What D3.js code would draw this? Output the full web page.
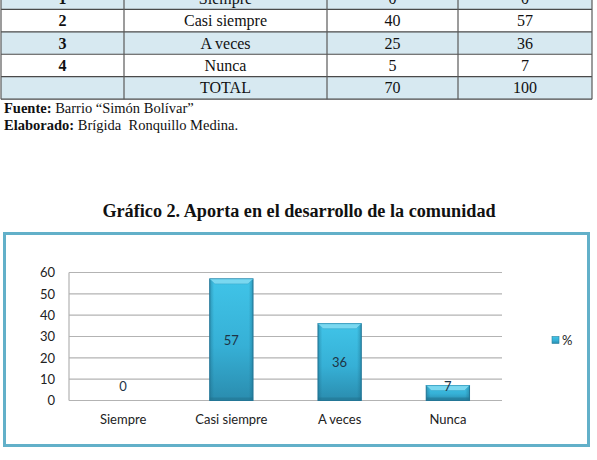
<!DOCTYPE html>
<html>
<head>
<meta charset="utf-8">
<script src="https://cdn.jsdelivr.net/npm/d3@7"></script>
<style>
  html, body { margin: 0; padding: 0; background: #ffffff; }
  svg { display: block; }
  .pre { white-space: pre; }
</style>
</head>
<body>
<svg id="chart" width="597" height="460"></svg>
<script>
// ---- Table data ----
const tableNums = ["1", "2", "3", "4", ""];
const tableCats = ["Siempre", "Casi siempre", "A veces", "Nunca", "TOTAL"];
const tableFreq = ["0", "40", "25", "5", "70"];
const tablePct  = ["0", "57", "36", "7", "100"];

// ---- Chart data ----
const categories = ["Siempre", "Casi siempre", "A veces", "Nunca"];
const values = [0, 57, 36, 7];
const yTicks = [0, 10, 20, 30, 40, 50, 60];
const seriesName = "%";

const title = "Gráfico 2. Aporta en el desarrollo de la comunidad";
const sourceLabel = "Fuente:";
const sourceText = " Barrio “Simón Bolívar”";
const authorLabel = "Elaborado:";
const authorText = " Brígida  Ronquillo Medina.";

const svg = d3.select("#chart");

// ---- Table ----
const colEdges = [1, 124, 327, 458, 592];
const rowTop = -13.1, rowH = 22.45;
const tRows = tableCats.map((c, i) => [tableNums[i], c, tableFreq[i], tablePct[i]]);
const tbl = svg.append("g");
const rowY = d3.scaleLinear().domain([0, 1]).range([rowTop, rowTop + rowH]);
tRows.forEach((r, i) => {
  tbl.append("rect")
    .attr("x", colEdges[0]).attr("y", rowY(i))
    .attr("width", colEdges[4] - colEdges[0]).attr("height", rowH)
    .attr("fill", i % 2 === 0 ? "#d7e9f1" : "#ffffff");
  r.forEach((t, j) => {
    tbl.append("text")
      .attr("x", (colEdges[j] + colEdges[j + 1]) / 2)
      .attr("y", rowY(i) + rowH / 2 + 5.5)
      .attr("text-anchor", "middle")
      .attr("font-family", "'Liberation Serif', 'Times New Roman', serif")
      .attr("font-size", 16)
      .attr("font-weight", j === 0 ? "bold" : "normal")
      .attr("fill", "#111")
      .text(t);
  });
});
for (let i = 0; i <= tRows.length; i++) {
  tbl.append("line")
    .attr("x1", colEdges[0]).attr("x2", colEdges[4])
    .attr("y1", rowY(i)).attr("y2", rowY(i))
    .attr("stroke", "#4a4a4a").attr("stroke-width", 1.2);
}
colEdges.forEach(x => {
  tbl.append("line")
    .attr("x1", x).attr("x2", x)
    .attr("y1", rowY(0)).attr("y2", rowY(tRows.length))
    .attr("stroke", "#5a5a5a").attr("stroke-width", 1.2);
});

// ---- Source notes ----
const noteFont = "'Liberation Serif', 'Times New Roman', serif";
const n1 = svg.append("text").attr("class", "pre").attr("x", 4).attr("y", 113)
  .attr("font-family", noteFont).attr("font-size", 14.5).attr("fill", "#111");
n1.append("tspan").attr("font-weight", "bold").text(sourceLabel);
n1.append("tspan").text(sourceText);
const n2 = svg.append("text").attr("class", "pre").attr("x", 4).attr("y", 130)
  .attr("font-family", noteFont).attr("font-size", 14.5).attr("fill", "#111");
n2.append("tspan").attr("font-weight", "bold").text(authorLabel);
n2.append("tspan").text(authorText);

// ---- Title ----
svg.append("text")
  .attr("x", 299).attr("y", 217)
  .attr("text-anchor", "middle")
  .attr("font-family", noteFont)
  .attr("font-size", 18.2)
  .attr("font-weight", "bold")
  .attr("fill", "#111")
  .text(title);

// ---- Chart frame ----
svg.append("rect")
  .attr("x", 4.5).attr("y", 233.5)
  .attr("width", 584).attr("height", 212)
  .attr("fill", "#ffffff")
  .attr("stroke", "#62b0c9").attr("stroke-width", 3);

// ---- Scales ----
const x = d3.scaleBand().domain(categories).range([69, 502]).padding(0);
const y = d3.scaleLinear().domain([0, 60]).range([400.5, 272.5]);
const chartFont = "Lato, 'Open Sans', sans-serif";

// gridlines
const grid = svg.append("g");
grid.selectAll("line").data(yTicks).join("line")
  .attr("x1", 69).attr("x2", 502)
  .attr("y1", d => y(d)).attr("y2", d => y(d))
  .attr("stroke", "#b3b3b3").attr("stroke-width", 1.2);
// y axis line
svg.append("line")
  .attr("x1", 69).attr("x2", 69).attr("y1", y(60)).attr("y2", y(0))
  .attr("stroke", "#b3b3b3").attr("stroke-width", 1.2);

// y axis via d3 axis
const yAxis = svg.append("g").attr("transform", "translate(69,0)")
  .call(d3.axisLeft(y).tickValues(yTicks).tickSize(0).tickPadding(14));
yAxis.select(".domain").remove();
yAxis.selectAll("text")
  .attr("font-family", chartFont).attr("font-size", 13).attr("fill", "#222");

// x axis labels
const xAxis = svg.append("g").attr("transform", `translate(0,${y(0)})`)
  .call(d3.axisBottom(x).tickSize(0).tickPadding(14));
xAxis.select(".domain").remove();
xAxis.selectAll("text")
  .attr("font-family", chartFont).attr("font-size", 13).attr("fill", "#222");

// gradients for bars
const defs = svg.append("defs");
const grad = defs.append("linearGradient").attr("id", "barGrad")
  .attr("x1", "0").attr("y1", "0").attr("x2", "0").attr("y2", "1");
grad.append("stop").attr("offset", "0%").attr("stop-color", "#40c4e8");
grad.append("stop").attr("offset", "55%").attr("stop-color", "#36b0d6");
grad.append("stop").attr("offset", "100%").attr("stop-color", "#2a8cae");
const sideGrad = defs.append("linearGradient").attr("id", "sideGrad")
  .attr("x1", "0").attr("y1", "0").attr("x2", "1").attr("y2", "0");
sideGrad.append("stop").attr("offset", "0%").attr("stop-color", "#1c6a86").attr("stop-opacity", 0.45);
sideGrad.append("stop").attr("offset", "10%").attr("stop-color", "#1c6a86").attr("stop-opacity", 0);
sideGrad.append("stop").attr("offset", "90%").attr("stop-color", "#1c6a86").attr("stop-opacity", 0);
sideGrad.append("stop").attr("offset", "100%").attr("stop-color", "#1c6a86").attr("stop-opacity", 0.45);

const barW = x.bandwidth() * 0.4;
const bars = svg.append("g");
const data = categories.map((c, i) => ({ c, v: values[i] }));
data.forEach(d => {
  if (d.v <= 0) return;
  const x0 = x(d.c) + (x.bandwidth() - barW) / 2;
  const y0 = y(d.v), h = y(0) - y(d.v);
  bars.append("rect").attr("x", x0).attr("y", y0).attr("width", barW).attr("height", h)
    .attr("fill", "url(#barGrad)").attr("stroke", "#25789a").attr("stroke-width", 1);
  bars.append("rect").attr("x", x0).attr("y", y0).attr("width", barW).attr("height", h)
    .attr("fill", "url(#sideGrad)");
  const b = Math.min(5, h / 3);
  bars.append("polygon")
    .attr("points", [[x0, y0], [x0 + barW, y0], [x0 + barW - b, y0 + b], [x0 + b, y0 + b]].map(p => p.join(",")).join(" "))
    .attr("fill", "#7ad8f0").attr("stroke", "#3aa9cc").attr("stroke-width", 0.6);
  // bottom darker edge
  bars.append("rect").attr("x", x0).attr("y", y(0) - 3).attr("width", barW).attr("height", 3)
    .attr("fill", "#1f6f8c").attr("opacity", 0.5);
});

// data labels
svg.append("g").selectAll("text").data(data).join("text")
  .attr("x", d => x(d.c) + x.bandwidth() / 2)
  .attr("y", d => Math.min((y(d.v) + y(0)) / 2, y(0) - 15) + 5)
  .attr("text-anchor", "middle")
  .attr("font-family", chartFont).attr("font-size", 13)
  .attr("fill", "#1e3446")
  .text(d => d.v);

// legend
svg.append("rect").attr("x", 552).attr("y", 336.5).attr("width", 7).attr("height", 7)
  .attr("fill", "url(#barGrad)").attr("stroke", "#2a809e").attr("stroke-width", 0.6);
svg.append("text").attr("x", 562).attr("y", 344.5)
  .attr("font-family", chartFont).attr("font-size", 13).attr("fill", "#222")
  .text(seriesName);
</script>
</body>
</html>
